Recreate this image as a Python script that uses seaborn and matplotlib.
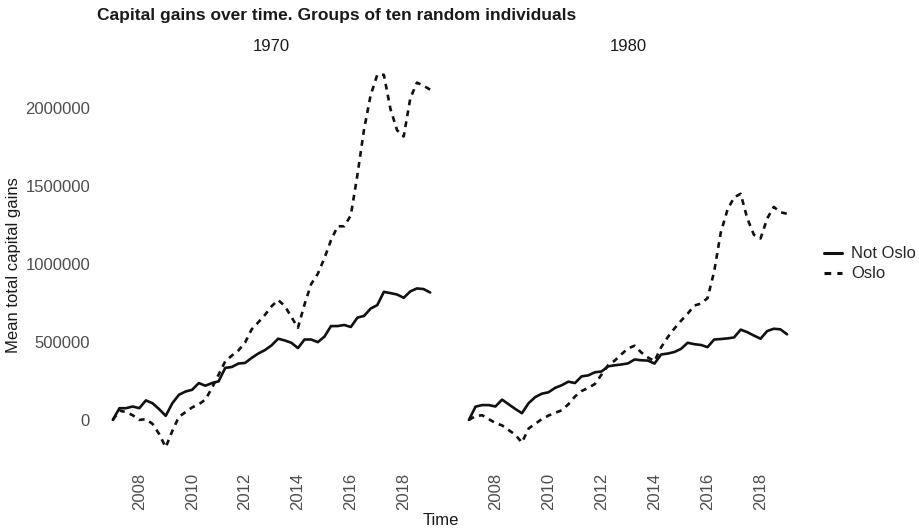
import numpy as np
import pandas as pd
import matplotlib
matplotlib.use("Agg")
import matplotlib.pyplot as plt
import seaborn as sns

# Quarterly time points, 2007 Q1 through 2019 Q1
quarters = np.arange(2007.0, 2019.01, 0.25)

cohorts = ["1970", "1980"]
regions = ["Not Oslo", "Oslo"]

not_oslo_1970 = [0, 75000, 75000, 86000, 75000, 125000, 107000, 69000, 26000, 107000,
                 161000, 182000, 193000, 236000, 219000, 236000, 247000, 333000, 339000, 361000,
                 365000, 397000, 425000, 447000, 477000, 520000, 509000, 494000, 460000, 515000,
                 515000, 498000, 533000, 601000, 601000, 608000, 595000, 655000, 666000, 713000,
                 735000, 820000, 812000, 803000, 782000, 823000, 842000, 838000, 816000]

oslo_1970 = [0, 60000, 50000, 30000, 0, 5000, -25000, -90000, -175000, -70000,
             20000, 50000, 80000, 100000, 130000, 205000, 290000, 375000, 412000, 445000,
             495000, 580000, 625000, 672000, 727000, 768000, 730000, 660000, 590000, 740000,
             870000, 935000, 1035000, 1150000, 1240000, 1240000, 1310000, 1570000, 1860000, 2080000,
             2210000, 2210000, 1990000, 1855000, 1815000, 2060000, 2160000, 2140000, 2115000]

not_oslo_1980 = [0, 85000, 95000, 95000, 86000, 130000, 100000, 70000, 43000, 107000,
                 146000, 168000, 177000, 205000, 222000, 245000, 236000, 279000, 285000, 305000,
                 310000, 343000, 350000, 355000, 362000, 387000, 382000, 380000, 361000, 419000,
                 425000, 435000, 455000, 494000, 485000, 480000, 466000, 515000, 518000, 522000,
                 528000, 578000, 562000, 540000, 520000, 569000, 584000, 580000, 548000]

oslo_1980 = [0, 25000, 30000, 5000, -20000, -35000, -65000, -95000, -145000, -55000,
             -25000, 5000, 28000, 45000, 62000, 100000, 150000, 185000, 205000, 230000,
             290000, 350000, 380000, 420000, 458000, 475000, 432000, 400000, 376000, 465000,
             530000, 585000, 635000, 680000, 732000, 745000, 780000, 950000, 1200000, 1345000,
             1425000, 1448000, 1290000, 1185000, 1162000, 1290000, 1364000, 1330000, 1320000]

series = {
    ("1970", "Not Oslo"): not_oslo_1970,
    ("1970", "Oslo"): oslo_1970,
    ("1980", "Not Oslo"): not_oslo_1980,
    ("1980", "Oslo"): oslo_1980,
}

frames = []
for (cohort, region), vals in series.items():
    frames.append(pd.DataFrame({"Time": quarters, "gains": vals,
                                "cohort": cohort, "region": region}))
df = pd.concat(frames, ignore_index=True)

sns.set_theme(style="white")
plt.rcParams["font.family"] = ["Liberation Sans", "DejaVu Sans"]

fig = plt.figure(figsize=(9.2, 5.3), dpi=100)
bottom, top = 0.121, 0.894
ax1 = fig.add_axes([0.1054, bottom, 0.4848 - 0.1054, top - bottom])
ax2 = fig.add_axes([0.4924, bottom, 0.8728 - 0.4924, top - bottom], sharey=ax1)

line_color = "#111111"
dash_styles = {"Not Oslo": "", "Oslo": (2.2, 2.0)}
tick_col = "#4d4d4d"

for ax, cohort in zip([ax1, ax2], cohorts):
    sub = df[df["cohort"] == cohort]
    sns.lineplot(data=sub, x="Time", y="gains", style="region", style_order=regions,
                 dashes=dash_styles, color=line_color, linewidth=1.9, ax=ax,
                 legend=(ax is ax2))
    ax.set_title(cohort, fontsize=12, color="#1a1a1a", pad=4)
    ax.set_xticks([2008, 2010, 2012, 2014, 2016, 2018])
    ax.tick_params(axis="x", labelrotation=90, labelsize=12, colors=tick_col,
                   length=3, width=0.6, color="#d0d0d0", pad=2)
    ax.tick_params(axis="y", labelsize=12, colors=tick_col,
                   length=3, width=0.6, color="#d0d0d0", pad=2)
    for s in ax.spines.values():
        s.set_visible(False)
    ax.grid(False)
    ax.set_xlabel("")
    ax.set_ylabel("")

ax1.set_yticks([0, 500000, 1000000, 1500000, 2000000])
ax1.set_yticklabels(["0", "500000", "1000000", "1500000", "2000000"])
plt.setp(ax2.get_yticklabels(), visible=False)
ax2.tick_params(axis="y", length=0)

# Legend to the right of the panels
handles, labels = ax2.get_legend_handles_labels()
ax2.get_legend().remove()
leg = fig.legend(handles, labels, loc="center left", bbox_to_anchor=(0.896, 0.502),
                 frameon=False, fontsize=12, handlelength=1.05, handletextpad=0.55,
                 labelspacing=0.3, borderpad=0, borderaxespad=0)
for h in leg.get_lines():
    h.set_linewidth(2.2)

fig.text(0.479, 0.004, "Time", ha="center", va="bottom", fontsize=12, color="#1a1a1a")
fig.text(0.007, 0.5, "Mean total capital gains", rotation=90, ha="left", va="center",
         fontsize=12, color="#1a1a1a")
fig.text(0.1054, 0.97, "Capital gains over time. Groups of ten random individuals",
         ha="left", va="center", fontsize=12.5, fontweight="bold", color="#1a1a1a")

fig.savefig("out.png", dpi=100, facecolor="white")
